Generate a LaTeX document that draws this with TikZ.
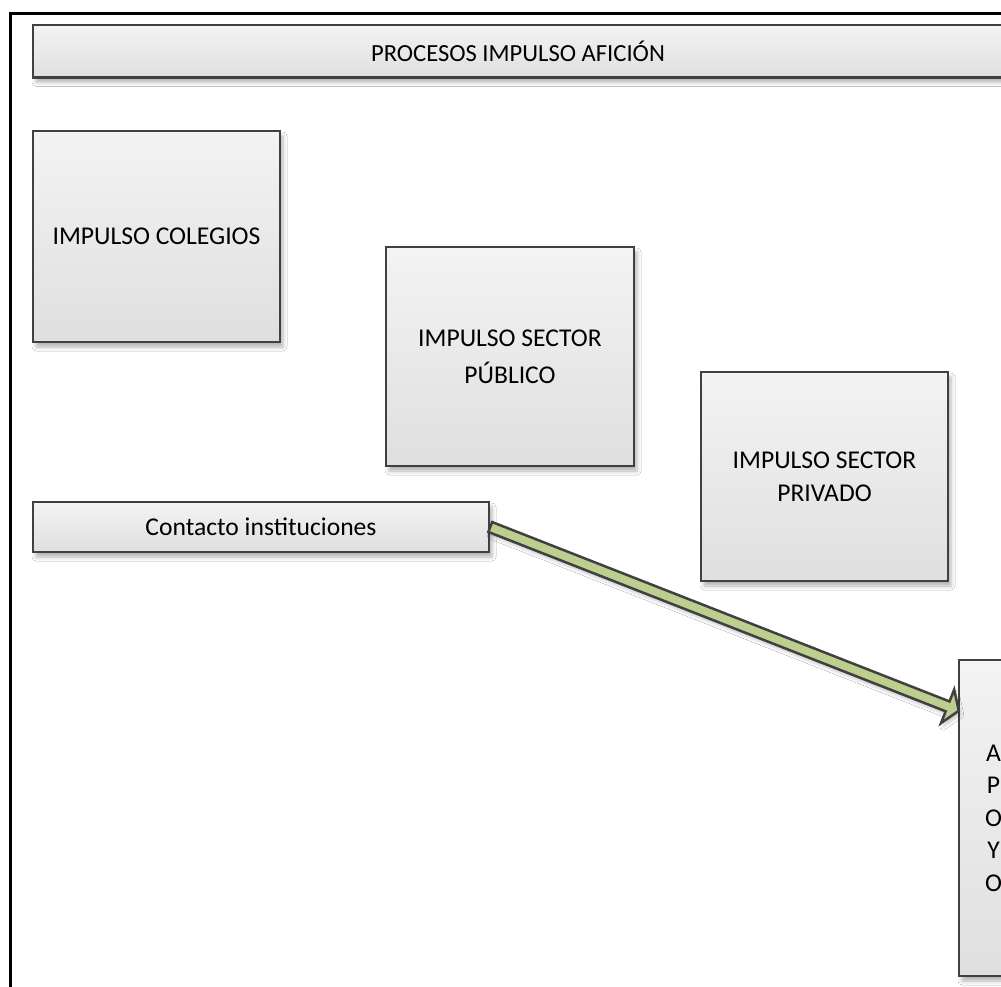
\documentclass[tikz,border=0pt]{standalone}
\usepackage{fontspec}
\setmainfont{Carlito}
\usetikzlibrary{calc,shadows.blur}

\definecolor{boxline}{HTML}{404040}
\definecolor{boxtop}{HTML}{F3F3F3}
\definecolor{boxbottom}{HTML}{DFDFDF}
\definecolor{arrowfill}{HTML}{BCCF8F}

\begin{document}
\begin{tikzpicture}[x=1pt,y=1pt,
  procbox/.style={draw=boxline, line width=2.5pt, top color=boxtop, bottom color=boxbottom,
    blur shadow={shadow xshift=3pt, shadow yshift=-5pt, shadow blur radius=4pt, shadow opacity=30},
    inner sep=0pt, align=center, font=\fontsize{25.6pt}{33pt}\selectfont},
  flowarrow/.style={draw=boxline, line width=2.5pt, fill=arrowfill, line join=miter,
    blur shadow={shadow xshift=2pt, shadow yshift=-4pt, shadow blur radius=3pt, shadow opacity=20}}]

% page and outer frame
\useasboundingbox (0,0) rectangle (1001,-986);
\fill[white] (0,0) rectangle (1001,-986);
\draw[line width=3pt] (10.5,-990) -- (10.5,-13.3) -- (1005,-13.3);

% title bar
\node[procbox, minimum width=970pt, minimum height=52.5pt,
      font=\fontsize{24.6pt}{30pt}\selectfont] (title) at (518,-51)
  {PROCESOS IMPULSO AFICIÓN};

% process boxes
\node[procbox, minimum width=247pt, minimum height=211pt] (colegios) at (156.5,-236.5)
  {IMPULSO COLEGIOS};
\node[procbox, minimum width=248pt, minimum height=219pt,
      font=\fontsize{25.6pt}{37pt}\selectfont] (publico) at (510,-356.5)
  {IMPULSO SECTOR\\PÚBLICO};
\node[procbox, minimum width=247pt, minimum height=209pt] (privado) at (824.5,-476.5)
  {IMPULSO SECTOR\\PRIVADO};
\node[procbox, minimum width=456pt, minimum height=50pt] (contact) at (261,-527)
  {Contacto instituciones};
\node[procbox, minimum width=69pt, minimum height=316pt,
      font=\fontsize{25.6pt}{32.5pt}\selectfont] (apoyo) at (993.5,-818)
  {A\\P\\O\\Y\\O};

% block arrow from the contact box to the support box
\coordinate (tip) at ($(apoyo.north west)+(1pt,-52pt)$);
\coordinate (hb) at ($(tip)!12pt!(contact.east)$);
\draw[flowarrow]
  ($(contact.east)!5.3pt!90:(tip)$) -- ($(hb)!5.3pt!90:(tip)$) -- ($(hb)!18pt!90:(tip)$)
  -- (tip)
  -- ($(hb)!18pt!-90:(tip)$) -- ($(hb)!5.3pt!-90:(tip)$) -- ($(contact.east)!5.3pt!-90:(tip)$)
  -- cycle;
\end{tikzpicture}
\end{document}
